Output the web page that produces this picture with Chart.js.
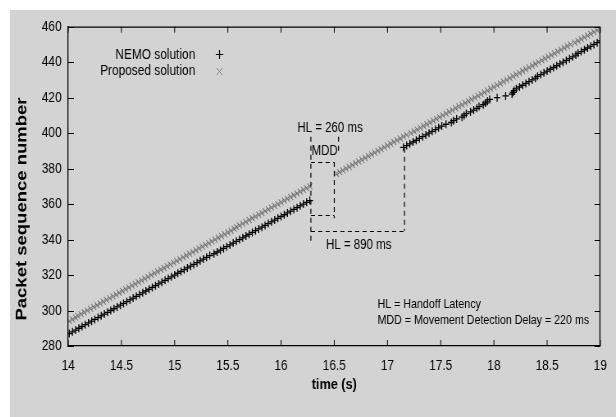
<!DOCTYPE html>
<html>
<head>
<meta charset="utf-8">
<script src="https://cdn.jsdelivr.net/npm/chart.js@4.4.1/dist/chart.umd.min.js"></script>
<style>
  body { margin: 0; background: #fff; }
  /* the original figure is squeezed sideways, so draw wider and let css squash it */
  #plot { position: absolute; left: 10px; top: 10px; background: #d3d3d3; }
</style>
</head>
<body>
<canvas id="plot" width="739" height="407" style="width:606px;height:407px"></canvas>
<script>
// packet sequence numbers and the time (s) they arrived
const nemoSeq = [
  287, 288, 289, 290, 291, 292, 293, 294, 295, 296,
  297, 298, 299, 300, 301, 302, 303, 304, 305, 306,
  307, 308, 309, 310, 311, 312, 313, 314, 315, 316,
  317, 318, 319, 320, 321, 322, 323, 324, 325, 326,
  327, 328, 329, 330, 331, 332, 333, 334, 335, 336,
  337, 338, 339, 340, 341, 342, 343, 344, 345, 346,
  347, 348, 349, 350, 351, 352, 353, 354, 355, 356,
  357, 358, 359, 360, 361, 362,
  392, 393, 394, 395, 396, 397, 398, 399, 400, 401,
  402, 403, 404, 405, 406, 407, 408, 409, 410, 411,
  412, 413, 414, 415, 416, 417, 418, 419, 420, 421,
  422, 423, 424, 425, 426, 427, 428, 429, 430, 431,
  432, 433, 434, 435, 436, 437, 438, 439, 440, 441,
  442, 443, 444, 445, 446, 447, 448, 449, 450, 451,
  452
];
const nemoTime = [
  14.01, 14.04, 14.07, 14.10, 14.13, 14.16, 14.19, 14.22, 14.25, 14.28,
  14.31, 14.34, 14.37, 14.40, 14.43, 14.46, 14.49, 14.52, 14.55, 14.58,
  14.61, 14.64, 14.67, 14.70, 14.73, 14.76, 14.79, 14.82, 14.85, 14.88,
  14.91, 14.94, 14.97, 15.00, 15.03, 15.06, 15.09, 15.12, 15.15, 15.18,
  15.21, 15.24, 15.27, 15.30, 15.33, 15.37, 15.40, 15.43, 15.46, 15.49,
  15.52, 15.55, 15.58, 15.61, 15.64, 15.67, 15.70, 15.73, 15.76, 15.79,
  15.82, 15.85, 15.88, 15.91, 15.94, 15.97, 16.00, 16.03, 16.06, 16.09,
  16.12, 16.15, 16.18, 16.21, 16.24, 16.27,
  17.15, 17.18, 17.21, 17.24, 17.27, 17.30, 17.33, 17.36, 17.39, 17.42,
  17.45, 17.48, 17.51, 17.55, 17.60, 17.62, 17.65, 17.70, 17.72, 17.74,
  17.78, 17.81, 17.84, 17.86, 17.90, 17.92, 17.94, 17.96, 18.03, 18.11,
  18.17, 18.18, 18.19, 18.21, 18.24, 18.27, 18.30, 18.33, 18.36, 18.39,
  18.41, 18.44, 18.47, 18.50, 18.53, 18.56, 18.59, 18.62, 18.65, 18.68,
  18.71, 18.74, 18.77, 18.79, 18.82, 18.85, 18.88, 18.91, 18.94, 18.97,
  19.00
];

const propSeq = [
  294, 295, 296, 297, 298, 299, 300, 301, 302, 303,
  304, 305, 306, 307, 308, 309, 310, 311, 312, 313,
  314, 315, 316, 317, 318, 319, 320, 321, 322, 323,
  324, 325, 326, 327, 328, 329, 330, 331, 332, 333,
  334, 335, 336, 337, 338, 339, 340, 341, 342, 343,
  344, 345, 346, 347, 348, 349, 350, 351, 352, 353,
  354, 355, 356, 357, 358, 359, 360, 361, 362, 363,
  364, 365, 366, 367, 368, 369, 370,
  377, 378, 379, 380, 381, 382, 383, 384, 385, 386,
  387, 388, 389, 390, 391, 392, 393, 394, 395, 396,
  397, 398, 399, 400, 401, 402, 403, 404, 405, 406,
  407, 408, 409, 410, 411, 412, 413, 414, 415, 416,
  417, 418, 419, 420, 421, 422, 423, 424, 425, 426,
  427, 428, 429, 430, 431, 432, 433, 434, 435, 436,
  437, 438, 439, 440, 441, 442, 443, 444, 445, 446,
  447, 448, 449, 450, 451, 452, 453, 454, 455, 456,
  457, 458, 459
];
const propTime = [
  14.01, 14.04, 14.07, 14.09, 14.12, 14.15, 14.18, 14.21, 14.24, 14.27,
  14.30, 14.33, 14.36, 14.39, 14.42, 14.45, 14.48, 14.51, 14.54, 14.57,
  14.60, 14.63, 14.66, 14.69, 14.72, 14.75, 14.78, 14.81, 14.84, 14.87,
  14.90, 14.93, 14.96, 14.99, 15.02, 15.05, 15.08, 15.11, 15.14, 15.17,
  15.20, 15.23, 15.26, 15.29, 15.32, 15.35, 15.38, 15.41, 15.44, 15.47,
  15.50, 15.53, 15.56, 15.58, 15.61, 15.64, 15.67, 15.70, 15.73, 15.76,
  15.79, 15.82, 15.85, 15.88, 15.91, 15.94, 15.97, 16.00, 16.03, 16.06,
  16.09, 16.12, 16.15, 16.18, 16.21, 16.24, 16.27,
  16.52, 16.55, 16.58, 16.61, 16.64, 16.67, 16.70, 16.73, 16.76, 16.79,
  16.82, 16.85, 16.88, 16.91, 16.94, 16.97, 17.00, 17.03, 17.06, 17.09,
  17.12, 17.15, 17.18, 17.22, 17.25, 17.28, 17.31, 17.34, 17.37, 17.40,
  17.43, 17.46, 17.49, 17.52, 17.55, 17.58, 17.61, 17.64, 17.67, 17.70,
  17.73, 17.76, 17.79, 17.82, 17.85, 17.88, 17.91, 17.94, 17.97, 18.00,
  18.03, 18.06, 18.09, 18.12, 18.15, 18.18, 18.21, 18.24, 18.27, 18.30,
  18.33, 18.36, 18.39, 18.42, 18.45, 18.48, 18.51, 18.54, 18.57, 18.60,
  18.63, 18.66, 18.69, 18.72, 18.76, 18.79, 18.82, 18.85, 18.88, 18.91,
  18.94, 18.97, 19.00
];

const seriesNames = ["NEMO solution", "Proposed solution"];

// dashed handoff markers, in data units (time s, sequence number)
const hoStart = 16.28;   // last packet before the handoff
const mddEnd = 16.50;    // movement detected
const hl1End = 16.54;    // proposed solution resumes
const hl2End = 17.16;    // NEMO resumes
const notes = ["HL = 260 ms", "MDD", "HL = 890 ms"];
const keyLines = ["HL = Handoff Latency", "MDD = Movement Detection Delay = 220 ms"];
const yTitle = "Packet sequence number";

const sans = "'Liberation Sans', Arial, sans-serif";

function toPoints(xs, ys) {
  return xs.map((t, i) => ({ x: t, y: ys[i] }));
}

// matlab-ish bits chart.js doesnt do: boxed axes, inward ticks, legend on the left of the marks, notes
const extras = {
  id: "extras",
  afterDraw(chart) {
    const ctx = chart.ctx;
    const a = chart.chartArea;
    const sx = chart.scales.x, sy = chart.scales.y;
    const px = v => sx.getPixelForValue(v);
    const py = v => sy.getPixelForValue(v);
    ctx.save();

    // top + right border
    ctx.strokeStyle = "#000";
    ctx.lineWidth = 1.3;
    ctx.beginPath();
    ctx.moveTo(a.left, a.top + 0.5); ctx.lineTo(a.right, a.top + 0.5);
    ctx.moveTo(a.right - 0.5, a.top); ctx.lineTo(a.right - 0.5, a.bottom);
    ctx.stroke();

    // inward ticks on all four sides
    ctx.lineWidth = 1.2;
    ctx.beginPath();
    sx.ticks.forEach(t => {
      const x = px(t.value);
      ctx.moveTo(x, a.bottom); ctx.lineTo(x, a.bottom - 6);
      ctx.moveTo(x, a.top); ctx.lineTo(x, a.top + 6);
    });
    ctx.lineWidth = 1;
    sy.ticks.forEach(t => {
      const y = Math.round(py(t.value)) + 0.5;
      ctx.moveTo(a.left, y); ctx.lineTo(a.left + 7, y);
      ctx.moveTo(a.right, y); ctx.lineTo(a.right - 7, y);
    });
    ctx.stroke();

    // y title, drawn here so it can sit a bit lower like the original
    ctx.fillStyle = "#000";
    ctx.save();
    ctx.translate(15, 199);
    ctx.rotate(-Math.PI / 2);
    ctx.font = "bold 18.5px " + sans;
    ctx.textAlign = "center";
    ctx.textBaseline = "middle";
    ctx.fillText(yTitle, 0, 0);
    ctx.restore();

    // legend: text right aligned, marker after it
    ctx.font = "14.5px " + sans;
    ctx.textAlign = "right";
    ctx.textBaseline = "middle";
    ctx.fillText(seriesNames[0], 226, 45);
    ctx.fillText(seriesNames[1], 226, 61);
    ctx.lineWidth = 1.2;
    ctx.beginPath();
    ctx.moveTo(251, 44.5); ctx.lineTo(260, 44.5);
    ctx.moveTo(255.5, 40); ctx.lineTo(255.5, 49);
    ctx.stroke();
    ctx.strokeStyle = "#808080";
    ctx.lineWidth = 1;
    ctx.beginPath();
    ctx.moveTo(252, 58); ctx.lineTo(259, 65);
    ctx.moveTo(259, 58); ctx.lineTo(252, 65);
    ctx.stroke();

    // handoff brackets
    ctx.strokeStyle = "#000";
    ctx.lineWidth = 1.2;
    ctx.setLineDash([5, 4]);
    const xs = px(hoStart), xm = px(mddEnd), xh1 = px(hl1End), xh2 = px(hl2End);
    const hy = v => Math.round(py(v)) + 0.5;
    ctx.beginPath();
    ctx.moveTo(xs, py(398)); ctx.lineTo(xs, py(339));
    ctx.moveTo(xh1, py(398)); ctx.lineTo(xh1, py(388));
    ctx.moveTo(xs, hy(383.7)); ctx.lineTo(xm, hy(383.7));
    ctx.moveTo(xm, py(383.7)); ctx.lineTo(xm, py(352));
    ctx.moveTo(xs, hy(353.8)); ctx.lineTo(xm, hy(353.8));
    ctx.moveTo(xs, hy(345)); ctx.lineTo(xh2, hy(345));
    ctx.moveTo(xh2, py(391.7)); ctx.lineTo(xh2, py(345));
    ctx.stroke();
    ctx.setLineDash([]);

    ctx.font = "14px " + sans;
    ctx.textAlign = "center";
    ctx.fillText(notes[0], px(16.46), py(402.8));
    ctx.fillText(notes[1], px(16.41), py(390.1));
    ctx.fillText(notes[2], px(16.73), py(336.7));

    ctx.font = "13px " + sans;
    ctx.textAlign = "left";
    ctx.fillText(keyLines[0], px(16.907), py(303.7));
    ctx.fillText(keyLines[1], px(16.907), py(294.3));
    ctx.restore();
  }
};

new Chart("plot", {
  type: "scatter",
  data: {
    datasets: [
      {
        label: seriesNames[0],
        data: toPoints(nemoTime, nemoSeq),
        pointStyle: "cross",
        pointRadius: 4,
        pointBorderWidth: 1.3,
        borderColor: "#000",
        backgroundColor: "#000"
      },
      {
        label: seriesNames[1],
        data: toPoints(propTime, propSeq),
        pointStyle: "crossRot",
        pointRadius: 4.3,
        pointBorderWidth: 1.1,
        borderColor: "rgba(70,70,70,0.6)",
        backgroundColor: "rgba(70,70,70,0.6)"
      }
    ]
  },
  options: {
    responsive: false,
    devicePixelRatio: 1,
    animation: false,
    layout: { padding: { top: 9, right: 11, left: 0, bottom: 0 } },
    plugins: {
      legend: { display: false },
      tooltip: { enabled: false }
    },
    scales: {
      x: {
        type: "linear",
        min: 14,
        max: 19,
        grid: { display: false, drawTicks: false },
        border: { display: true, color: "#000", width: 1.3 },
        ticks: { stepSize: 0.5, padding: 11, color: "#000", font: { family: sans, size: 14.5 },
                 callback: v => String(v) },
        title: { display: true, text: "time (s)", color: "#000", padding: { top: 3, bottom: 23 }, font: { family: sans, size: 15.5, weight: "bold" } },
        afterFit: s => { s.height = 71; }
      },
      y: {
        min: 280,
        max: 460,
        grid: { display: false, drawTicks: false },
        border: { display: true, color: "#000", width: 1.3 },
        ticks: { stepSize: 20, padding: 8, color: "#000", font: { family: sans, size: 14.5 } },
        afterFit: s => { s.width = 71; }
      }
    }
  },
  plugins: [extras]
});
</script>
</body>
</html>
